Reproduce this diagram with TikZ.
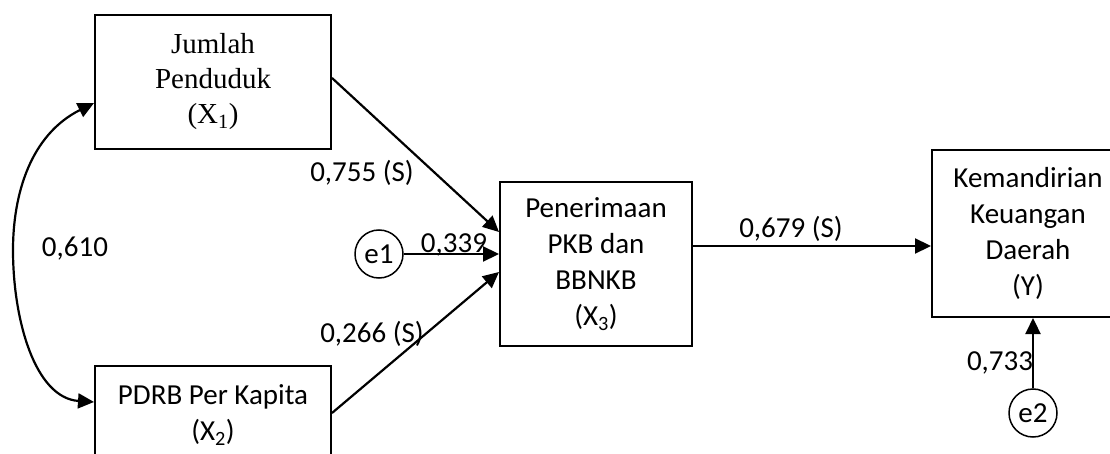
\documentclass[tikz,border=0pt]{standalone}
\usepackage{fontspec}
\setmainfont{Carlito}
\newfontfamily\timesfont{Liberation Serif}
\usetikzlibrary{arrows.meta}
\tikzset{
  box/.style={draw, line width=2pt, inner sep=0pt, align=center,
    font=\fontsize{29pt}{36pt}\selectfont},
  errc/.style={draw, circle, line width=1.5pt, inner sep=0pt, minimum size=48pt,
    font=\fontsize{29pt}{36pt}\selectfont},
  tip/.style={Triangle[length=16pt,width=15pt]},
  path/.style={line width=2.2pt, -{Triangle[length=16pt,width=15pt]}},
  lbl/.style={anchor=base, inner sep=0pt, font=\fontsize{29pt}{36pt}\selectfont}
}
\begin{document}
\begin{tikzpicture}[x=1pt,y=-1pt]
\useasboundingbox (0,0) rectangle (1110,454);
\clip (0,0) rectangle (1110,454);
% boxes
\node[box, minimum width=236pt, minimum height=134pt, font=\timesfont\fontsize{29pt}{35pt}\selectfont] (X1) at (213,82)
  {Jumlah\\Penduduk\\(X\textsubscript{1})};
\node[box, minimum width=236pt, minimum height=98pt] (X2) at (213,415)
  {PDRB Per Kapita\\(X\textsubscript{2})};
\node[box, minimum width=192pt, minimum height=164pt] (X3) at (596,264)
  {Penerimaan\\PKB dan\\BBNKB\\(X\textsubscript{3})};
\node[box, minimum width=192pt, minimum height=167pt] (Y) at (1028,233.5)
  {Kemandirian\\Keuangan\\Daerah\\(Y)};
\node[errc] (e1) at (379,254) {e1};
\node[errc] (e2) at (1033,413) {e2};
% connectors
\draw[path] ([yshift=4pt]X1.east) -- ([yshift=32pt]X3.west);
\draw[path] ([yshift=2pt]X2.east) -- ([yshift=-8pt]X3.west);
\draw[path] (e1.east) -- (e1.east -| X3.west);
\coordinate (p) at ([yshift=18pt]X3.east);
\draw[path] (p) -- (p -| Y.west);
\draw[path] (e2.north) -- (e2.north |- Y.south);
\draw[line width=2.2pt, {Triangle[length=16pt,width=15pt]}-{Triangle[length=16pt,width=15pt]}]
  ([yshift=-21pt]X1.west) .. controls (30,135) and (13,195) .. (13,250)
  .. controls (13,320) and (35,398) .. ([yshift=13pt]X2.west);
% labels
\node[lbl] (l1) at (362,182) {0,755 (S)};
\node[lbl] (l2) at (454,252) {0,339};
\node[lbl] (l3) at (372,342) {0,266 (S)};
\node[lbl] (l4) at (791,238) {0,679 (S)};
\node[lbl] (l5) at (75,257) {0,610};
\node[lbl] (l6) at (1000,370) {0,733};
\end{tikzpicture}
\end{document}
